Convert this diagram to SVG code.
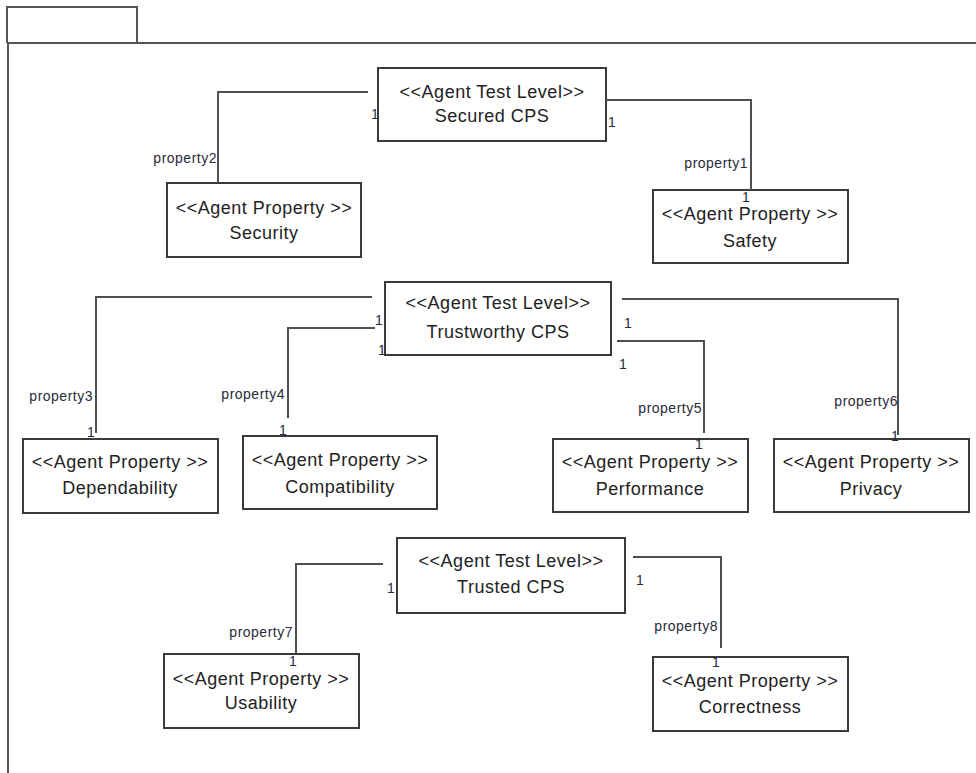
<svg xmlns="http://www.w3.org/2000/svg" width="976" height="773" viewBox="0 0 976 773">
  <style>
    .frame { fill: none; stroke: #555; stroke-width: 2; }
    .box { fill: #fff; stroke: #3a3a3a; stroke-width: 2; }
    .wire { fill: none; stroke: #505050; stroke-width: 2; }
    .name { font-family: "Liberation Sans", Arial, sans-serif; font-size: 18px; letter-spacing: 0.5px; fill: #222; text-anchor: middle; }
    .lbl { font-family: "Liberation Sans", Arial, sans-serif; font-size: 14px; letter-spacing: 0.5px; fill: #2a2a3a; }
    .end { text-anchor: end; }
  </style>
  <rect width="976" height="773" fill="#fff"/>

  <!-- package frame -->
  <g id="package">
    <path class="frame" d="M7,43 V7 H137 V43"/>
    <path class="frame" d="M976,43 H8 V773"/>
  </g>

  <!-- test levels -->
  <g id="secured-cps">
    <rect class="box" x="378" y="68" width="228" height="73"/>
    <text class="name" x="492" y="98">&lt;&lt;Agent Test Level&gt;&gt;</text>
    <text class="name" x="492" y="122">Secured CPS</text>
  </g>
  <g id="trustworthy-cps">
    <rect class="box" x="385" y="282" width="226" height="73"/>
    <text class="name" x="498" y="309">&lt;&lt;Agent Test Level&gt;&gt;</text>
    <text class="name" x="498" y="338">Trustworthy CPS</text>
  </g>
  <g id="trusted-cps">
    <rect class="box" x="397" y="538" width="228" height="75"/>
    <text class="name" x="511" y="567">&lt;&lt;Agent Test Level&gt;&gt;</text>
    <text class="name" x="511" y="593">Trusted CPS</text>
  </g>

  <!-- properties -->
  <g id="security">
    <rect class="box" x="167" y="183" width="194" height="74"/>
    <text class="name" x="264" y="214">&lt;&lt;Agent Property &gt;&gt;</text>
    <text class="name" x="264" y="239">Security</text>
  </g>
  <g id="safety">
    <rect class="box" x="653" y="190" width="195" height="73"/>
    <text class="name" x="750" y="220">&lt;&lt;Agent Property &gt;&gt;</text>
    <text class="name" x="750" y="247">Safety</text>
  </g>
  <g id="dependability">
    <rect class="box" x="23" y="439" width="195" height="74"/>
    <text class="name" x="120" y="468">&lt;&lt;Agent Property &gt;&gt;</text>
    <text class="name" x="120" y="494">Dependability</text>
  </g>
  <g id="compatibility">
    <rect class="box" x="243" y="436" width="194" height="73"/>
    <text class="name" x="340" y="466">&lt;&lt;Agent Property &gt;&gt;</text>
    <text class="name" x="340" y="493">Compatibility</text>
  </g>
  <g id="performance">
    <rect class="box" x="553" y="439" width="195" height="73"/>
    <text class="name" x="650" y="468">&lt;&lt;Agent Property &gt;&gt;</text>
    <text class="name" x="650" y="495">Performance</text>
  </g>
  <g id="privacy">
    <rect class="box" x="774" y="439" width="195" height="73"/>
    <text class="name" x="871" y="468">&lt;&lt;Agent Property &gt;&gt;</text>
    <text class="name" x="871" y="495">Privacy</text>
  </g>
  <g id="usability">
    <rect class="box" x="164" y="654" width="195" height="74"/>
    <text class="name" x="261" y="685">&lt;&lt;Agent Property &gt;&gt;</text>
    <text class="name" x="261" y="709">Usability</text>
  </g>
  <g id="correctness">
    <rect class="box" x="653" y="657" width="195" height="74"/>
    <text class="name" x="750" y="687">&lt;&lt;Agent Property &gt;&gt;</text>
    <text class="name" x="750" y="713">Correctness</text>
  </g>

  <!-- associations, drawn last so the end multiplicities sit on the box edges -->
  <g id="connectors">
    <polyline class="wire" points="368,92 218,92 218,183"/>
    <polyline class="wire" points="606,100 751,100 751,190"/>
    <polyline class="wire" points="372,297 96,297 96,433"/>
    <polyline class="wire" points="375,328 288,328 288,418"/>
    <polyline class="wire" points="622,299 898,299 898,435"/>
    <polyline class="wire" points="617,341 704,341 704,433"/>
    <polyline class="wire" points="383,564 296,564 296,654"/>
    <polyline class="wire" points="633,557 721,557 721,648"/>

    <text class="lbl" x="371" y="119">1</text>
    <text class="lbl" x="608" y="127">1</text>
    <text class="lbl end" x="217" y="163">property2</text>
    <text class="lbl end" x="748" y="168">property1</text>
    <text class="lbl" x="742" y="202">1</text>

    <text class="lbl" x="375" y="325">1</text>
    <text class="lbl" x="378" y="355">1</text>
    <text class="lbl" x="624" y="328">1</text>
    <text class="lbl" x="619" y="369">1</text>
    <text class="lbl end" x="93" y="401">property3</text>
    <text class="lbl" x="87" y="437">1</text>
    <text class="lbl end" x="285" y="399">property4</text>
    <text class="lbl" x="279" y="435">1</text>
    <text class="lbl end" x="702" y="413">property5</text>
    <text class="lbl" x="695" y="449">1</text>
    <text class="lbl end" x="898" y="406">property6</text>
    <text class="lbl" x="891" y="441">1</text>

    <text class="lbl" x="387" y="593">1</text>
    <text class="lbl" x="636" y="585">1</text>
    <text class="lbl end" x="293" y="637">property7</text>
    <text class="lbl" x="289" y="666">1</text>
    <text class="lbl end" x="718" y="631">property8</text>
    <text class="lbl" x="712" y="667">1</text>
  </g>
</svg>
